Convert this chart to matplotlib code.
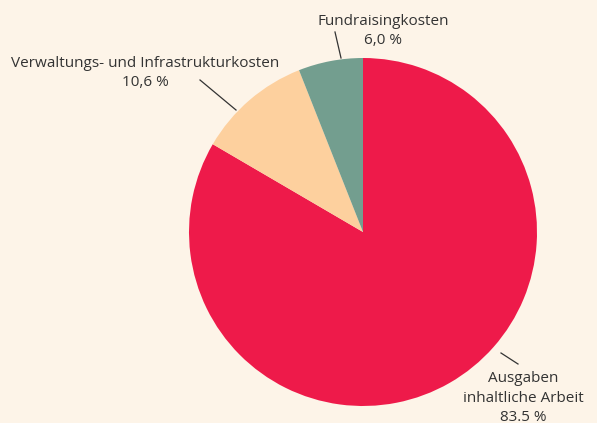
import matplotlib.pyplot as plt

# slice data, clockwise from 12 o'clock
labels = ["Ausgaben\ninhaltliche Arbeit", "Verwaltungs- und Infrastrukturkosten", "Fundraisingkosten"]
values = [83.5, 10.6, 6.0]
value_labels = ["83.5 %", "10,6 %", "6,0 %"]
colors = ["#EE1A4A", "#FDD09E", "#739E8F"]

W, H = 597, 423
BG = "#FDF4E8"
TXT = "#333333"


def px(x, y):
    """pixel coords (y down) -> data coords (y up)"""
    return (x, H - y)


fig = plt.figure(figsize=(W / 100, H / 100), dpi=100, facecolor=BG)
ax = fig.add_axes([0, 0, 1, 1])
ax.set_facecolor(BG)

ax.pie(values, colors=colors, startangle=90, counterclock=False,
       center=px(363, 232), radius=174, frame=True,
       wedgeprops=dict(linewidth=0))
ax.set_xlim(0, W)
ax.set_ylim(0, H)
ax.set_aspect("auto")
ax.axis("off")

# label placement: (text centre, leader start, leader end) in pixels
placements = [
    ((523, 398), (518, 364), (501, 353)),
    ((145, 73), (200, 80), (236, 110)),
    ((383, 31), (335, 32), (341, 58)),
]

for lab, vl, (tpos, p0, p1) in zip(labels, value_labels, placements):
    ax.text(*px(*tpos), f"{lab}\n{vl}", ha="center", va="center",
            fontsize=11, color=TXT, family="Open Sans", linespacing=1.42)
    ax.plot([p0[0], p1[0]], [H - p0[1], H - p1[1]], color="#333333", lw=0.9)

fig.savefig("out.png", dpi=100, facecolor=BG)
